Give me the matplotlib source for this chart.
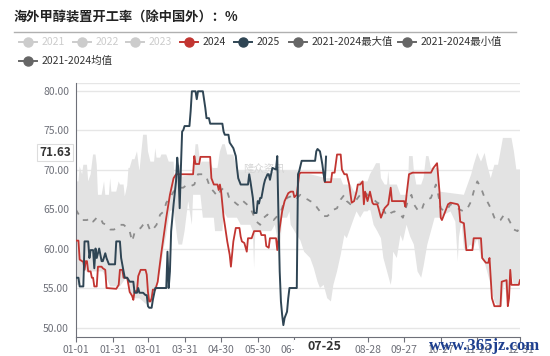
import numpy as np
import matplotlib
matplotlib.use("Agg")
import matplotlib.pyplot as plt
from matplotlib.lines import Line2D
from matplotlib.patches import Rectangle

plt.rcParams['font.family'] = ['Noto Sans CJK SC', 'DejaVu Sans']

# day of year (0 = 01-01) and value
red_days = [0, 2, 3, 5, 6, 7, 8, 9, 10, 12, 13, 14, 15, 17, 18, 21, 22, 24, 25, 33,
            35, 36, 38, 39, 42, 44, 46, 47, 48, 50, 51, 53, 57, 58, 59, 60, 61, 62, 63, 65,
            67, 68, 70, 72, 74, 77, 80, 82, 96, 97, 98, 101, 102, 110, 111, 113, 116, 117, 118, 119,
            121, 122, 124, 126, 127, 129, 131, 134, 135, 136, 138, 140, 141, 144, 146, 151, 152, 155, 156, 158,
            159, 164, 165, 167, 169, 171, 174, 176, 178, 179, 181, 183, 184, 203, 204, 209, 210, 212, 214, 217,
            218, 220, 222, 224, 226, 228, 230, 231, 233, 235, 236, 237, 239, 241, 243, 244, 247, 248, 250, 251,
            253, 256, 258, 259, 269, 270, 271, 273, 276, 291, 293, 295, 296, 298, 299, 300, 302, 305, 307, 313,
            314, 315, 318, 320, 325, 326, 332, 333, 336, 338, 339, 340, 341, 343, 348, 349, 353, 354, 355, 356,
            357, 363, 364]
red_vals = [61.0, 61.0, 58.6, 58.4, 58.3, 57.3, 58.4, 58.4, 57.1, 57.1, 56.3, 56.3, 55.2, 55.2, 57.7, 57.7, 57.5, 57.3, 55.0, 54.9,
            55.4, 57.3, 57.3, 56.3, 56.3, 54.5, 54.0, 53.5, 54.6, 54.6, 56.5, 57.3, 57.3, 56.7, 54.5, 53.3, 53.3, 53.7, 54.8, 54.8,
            55.8, 57.1, 59.5, 61.7, 63.9, 66.8, 68.9, 69.4, 69.4, 71.7, 70.7, 70.7, 71.6, 71.6, 68.9, 68.1, 68.1, 67.4, 68.1, 67.2,
            64.0, 63.0, 60.9, 59.2, 57.7, 60.9, 62.6, 62.6, 61.5, 60.9, 60.7, 59.6, 61.3, 61.3, 62.2, 62.2, 61.7, 61.7, 60.3, 60.1,
            61.3, 61.3, 59.8, 62.6, 64.7, 66.0, 67.0, 67.2, 67.2, 66.5, 66.8, 69.4, 69.6, 69.6, 68.4, 68.4, 69.6, 69.6, 71.9, 71.9,
            70.0, 69.4, 69.4, 68.1, 65.8, 66.0, 67.2, 68.1, 68.1, 68.5, 65.6, 67.2, 66.0, 67.2, 65.8, 65.6, 65.6, 65.1, 63.9, 64.3,
            65.1, 65.6, 67.7, 66.0, 66.0, 65.3, 66.8, 69.4, 69.6, 69.6, 70.2, 70.6, 70.8, 67.2, 63.9, 63.6, 64.4, 65.6, 65.8, 65.6,
            65.3, 63.4, 63.2, 59.8, 59.8, 61.3, 61.3, 58.8, 58.2, 58.2, 58.8, 56.3, 53.7, 52.7, 52.7, 55.8, 56.0, 52.7, 53.7, 57.3,
            55.4, 55.4, 56.0]

navy_days = [0, 2, 3, 6, 7, 10, 11, 12, 14, 15, 16, 17, 19, 21, 22, 24, 25, 27, 32, 33,
             36, 37, 39, 40, 42, 44, 47, 48, 50, 51, 52, 55, 57, 58, 59, 60, 62, 63, 65, 74,
             75, 76, 77, 78, 80, 82, 83, 84, 85, 86, 87, 88, 89, 93, 94, 95, 98, 99, 100, 104,
             106, 107, 109, 110, 120, 121, 122, 125, 126, 129, 131, 132, 133, 135, 141, 142, 143, 145, 146, 148,
             149, 150, 151, 152, 154, 155, 157, 158, 159, 161, 164, 165, 166, 167, 168, 169, 170, 171, 173, 174,
             175, 181, 182, 183, 185, 196, 197, 198, 200, 201, 202, 203, 204, 205]
navy_vals = [56.3, 56.3, 55.2, 55.2, 60.9, 60.9, 58.8, 59.8, 59.8, 57.5, 60.0, 58.8, 60.0, 58.4, 58.4, 59.4, 58.8, 58.0, 58.0, 60.9,
             60.9, 58.8, 57.1, 56.3, 56.3, 55.8, 55.8, 54.4, 54.4, 55.0, 54.4, 54.4, 54.1, 54.1, 52.7, 52.5, 52.5, 53.5, 55.0, 55.0,
             59.6, 55.0, 57.1, 62.2, 65.6, 68.5, 71.5, 69.8, 65.1, 70.2, 74.8, 75.0, 75.5, 75.5, 77.4, 79.9, 79.9, 78.9, 79.9, 79.9,
             77.8, 76.5, 76.5, 75.8, 75.8, 74.8, 74.4, 74.4, 73.4, 72.7, 71.7, 70.2, 68.9, 68.1, 68.1, 69.4, 68.5, 66.4, 64.5, 64.5,
             66.0, 65.7, 66.4, 66.4, 68.1, 68.7, 69.4, 69.4, 68.7, 70.2, 70.0, 71.7, 63.9, 57.1, 53.3, 51.6, 50.3, 51.2, 52.0, 53.7,
             55.0, 55.0, 69.4, 69.8, 71.1, 71.1, 72.3, 72.6, 72.3, 71.5, 70.6, 69.4, 68.5, 71.63]

max_days = [0, 2, 3, 5, 6, 9, 10, 12, 14, 16, 17, 18, 21, 23, 24, 27, 28, 29, 33, 35,
            36, 39, 40, 42, 43, 44, 46, 48, 50, 52, 55, 58, 59, 61, 64, 65, 66, 69, 70, 74,
            76, 80, 81, 83, 85, 87, 96, 98, 100, 102, 103, 110, 112, 116, 118, 120, 122, 124, 129, 132,
            155, 160, 165, 176, 183, 184, 192, 200, 205, 217, 219, 225, 228, 230, 232, 239, 241, 244, 246, 249,
            250, 253, 255, 256, 257, 263, 266, 272, 273, 276, 277, 279, 283, 285, 287, 289, 291, 297, 298, 318,
            321, 324, 326, 329, 332, 335, 337, 340, 343, 346, 348, 350, 357, 359, 361, 364]
max_vals = [68.5, 68.5, 70.4, 69.4, 70.6, 70.6, 68.5, 69.4, 71.9, 71.9, 70.6, 66.8, 66.8, 68.5, 66.8, 66.8, 68.9, 67.2, 67.2, 68.5,
            68.1, 68.1, 66.6, 68.0, 70.2, 70.2, 71.3, 71.3, 72.3, 69.8, 74.4, 74.4, 72.3, 71.0, 71.0, 72.7, 71.5, 71.5, 71.9, 71.9,
            71.0, 71.0, 68.1, 70.6, 70.6, 69.1, 69.4, 73.2, 73.2, 70.6, 71.0, 71.0, 70.2, 70.2, 72.3, 73.2, 73.2, 71.9, 71.9, 69.8,
            69.8, 69.5, 70.0, 69.8, 69.8, 69.4, 69.4, 69.1, 68.9, 68.9, 68.1, 68.1, 67.2, 67.2, 68.5, 68.5, 69.4, 70.2, 70.8, 70.8,
            68.9, 68.1, 68.1, 69.8, 68.1, 68.1, 66.8, 66.8, 71.7, 71.7, 69.8, 68.1, 68.1, 69.0, 71.7, 71.7, 70.2, 70.2, 67.2, 66.8,
            68.1, 69.4, 70.6, 72.1, 71.0, 72.1, 70.6, 68.9, 70.6, 70.6, 72.3, 74.0, 74.0, 72.3, 70.0, 70.0]

min_days = [0, 4, 6, 8, 22, 25, 28, 36, 41, 46, 52, 58, 63, 66, 69, 72, 74, 77, 80, 83,
            84, 87, 89, 92, 95, 96, 102, 104, 113, 114, 120, 121, 124, 132, 135, 143, 145, 146, 147, 160,
            163, 165, 167, 169, 173, 175, 176, 178, 181, 184, 187, 192, 195, 198, 200, 203, 206, 209, 211, 214,
            217, 220, 222, 225, 228, 230, 233, 236, 239, 241, 244, 247, 250, 252, 255, 258, 259, 260, 263, 266,
            268, 271, 274, 277, 280, 283, 285, 288, 291, 294, 299, 302, 307, 311, 313, 314, 316, 318, 320, 323,
            326, 329, 332, 335, 337, 340, 343, 346, 349, 351, 354, 357, 359, 364]
min_vals = [55.4, 55.4, 58.8, 57.1, 57.1, 56.3, 55.2, 55.2, 56.3, 53.7, 53.7, 52.9, 53.7, 55.4, 57.1, 60.1, 61.7, 64.7, 65.0, 61.3,
            60.5, 60.5, 62.2, 66.0, 63.0, 66.8, 66.8, 63.9, 63.9, 62.2, 62.2, 64.7, 63.9, 63.9, 63.0, 63.0, 62.2, 57.5, 62.2, 62.2,
            63.0, 61.3, 59.0, 63.9, 63.9, 64.7, 63.0, 62.5, 61.7, 61.0, 59.6, 58.8, 57.5, 55.8, 55.0, 55.4, 53.7, 53.3, 55.4, 57.1,
            59.2, 61.7, 61.3, 62.6, 63.9, 64.7, 63.9, 64.7, 64.7, 65.1, 63.0, 62.2, 61.3, 58.8, 57.1, 55.4, 56.3, 59.6, 58.8, 61.7,
            60.9, 63.0, 61.5, 60.5, 57.1, 56.3, 57.8, 60.5, 62.2, 63.9, 63.9, 64.3, 64.7, 63.4, 58.4, 61.5, 63.4, 60.1, 59.6, 60.5,
            60.1, 61.3, 58.8, 58.2, 57.1, 55.4, 53.3, 52.7, 52.7, 55.8, 52.9, 56.7, 55.4, 55.4]

mean_days = [0, 3, 5, 9, 12, 14, 17, 20, 22, 25, 28, 31, 34, 36, 39, 42, 44, 46, 48, 50,
             53, 55, 58, 61, 64, 66, 69, 72, 74, 77, 80, 83, 88, 91, 94, 97, 100, 105, 107, 110,
             113, 116, 118, 121, 124, 126, 129, 132, 134, 137, 140, 143, 146, 148, 151, 154, 157, 159, 162, 165,
             168, 170, 173, 176, 178, 181, 184, 187, 190, 192, 195, 198, 200, 203, 206, 209, 211, 214, 217, 220,
             222, 225, 227, 230, 233, 236, 239, 241, 244, 247, 250, 252, 255, 258, 261, 263, 266, 268, 270, 272,
             275, 277, 280, 283, 285, 288, 291, 294, 295, 297, 299, 302, 305, 307, 310, 313, 315, 318, 321, 324,
             326, 329, 332, 335, 337, 340, 343, 346, 348, 351, 354, 357, 359, 362, 364]
mean_vals = [64.9, 64.1, 63.6, 63.6, 63.9, 63.4, 63.9, 63.9, 63.2, 63.0, 62.4, 62.4, 62.6, 63.0, 63.0, 62.6, 62.2, 60.9, 62.0, 62.3,
             62.6, 63.0, 63.4, 62.2, 62.6, 63.0, 64.3, 64.7, 65.8, 66.4, 67.2, 67.7, 67.7, 68.1, 67.9, 68.1, 69.4, 69.4, 69.0, 67.7,
             67.2, 66.6, 67.2, 67.7, 67.2, 66.2, 66.0, 65.6, 65.4, 66.0, 65.6, 65.1, 64.1, 63.4, 63.0, 63.9, 64.3, 63.9, 63.6, 64.1,
             64.7, 65.6, 66.4, 66.6, 66.8, 66.4, 66.8, 66.4, 66.2, 66.0, 65.8, 65.1, 64.7, 64.1, 64.1, 64.5, 64.9, 65.1, 66.2, 66.8,
             66.0, 65.6, 65.8, 66.2, 66.8, 67.2, 66.8, 66.4, 66.2, 65.8, 65.6, 64.9, 64.1, 64.5, 64.7, 64.5, 64.3, 63.9, 64.9, 66.0,
             66.8, 65.6, 64.9, 64.7, 65.6, 66.2, 66.4, 67.7, 68.1, 66.8, 65.1, 64.7, 65.1, 65.6, 65.4, 65.1, 64.9, 64.7, 65.1, 66.0,
             67.2, 68.5, 67.7, 66.4, 66.0, 65.1, 63.9, 63.4, 63.6, 64.3, 63.9, 63.0, 62.4, 62.2, 63.0]

tick_days = [0, 30, 59, 89, 119, 149, 179, 209, 239, 269, 299, 329, 364]
tick_labels = ['01-01', '01-31', '03-01', '03-31', '04-30', '05-30', '06-29', '07-29',
               '08-28', '09-27', '10-27', '11-26', '12-31']
pointer_day_label = '07-25'
pointer_value = 71.63

title = '海外甲醇装置开工率（除中国外）：%'
legend_names = ['2021', '2022', '2023', '2024', '2025', '2021-2024最大值', '2021-2024最小值', '2021-2024均值']

RED = '#c23531'
NAVY = '#2f4554'
GREY = '#6e7079'

W, H = 550, 356
fig = plt.figure(figsize=(5.5, 3.56), dpi=100)


def fx(px):
    return px / W


def fy(py):
    return 1 - py / H


ax = fig.add_axes([fx(76), fy(337), fx(520) - fx(76), fy(83) - fy(337)])

# min/max band
band_x = np.r_[max_days, min_days[::-1]]
band_y = np.r_[max_vals, min_vals[::-1]]
ax.fill(band_x, band_y, color='#e3e3e3', lw=0, zorder=1)

ax.plot(mean_days, mean_vals, color='#8c8c8c', lw=1.3, dashes=(3, 4), zorder=2)
ax.plot(red_days, red_vals, color=RED, lw=1.3, zorder=3)
ax.plot(navy_days, navy_vals, color=NAVY, lw=1.4, zorder=4)

ax.set_xlim(0, 364)
ax.set_ylim(48.8, 80.95)
ax.set_yticks([50, 55, 60, 65, 70, 75, 80])
ax.set_yticklabels([f'{v:.2f}' for v in [50, 55, 60, 65, 70, 75, 80]])
ax.set_xticks(tick_days)
ax.set_xticklabels(tick_labels)
ax.grid(axis='y', color='#e6e6e6', lw=1, zorder=0)
ax.set_axisbelow(True)
for s in ['top', 'right']:
    ax.spines[s].set_visible(False)
ax.axhline(80.95, color='#e6e6e6', lw=1, zorder=0)
ax.spines['left'].set_color(GREY)
ax.spines['bottom'].set_color(GREY)
ax.tick_params(axis='y', length=0, pad=5, labelsize=7.5, labelcolor=GREY)
ax.tick_params(axis='x', length=3.5, color=GREY, pad=2, labelsize=7.5, labelcolor=GREY)

# watermark in plot
ax.text(137, 70.1, '隆众资讯', color='#d4d4d4', fontsize=7.5, va='center', zorder=2)

# axis pointer labels
fig.add_artist(Rectangle((fx(294), fy(356)), fx(350) - fx(294), fy(340) - fy(356),
                         transform=fig.transFigure, fc='white', ec='none'))
fig.text(fx(325), fy(347), pointer_day_label, ha='center', va='center', fontsize=9,
         fontweight='bold', color='#333333')
ax.annotate(f'{pointer_value:.2f}', xy=(0, pointer_value), xycoords=('axes fraction', 'data'),
            xytext=(-15, 3), textcoords='offset points', ha='center', va='center',
            fontsize=8.5, fontweight='bold', color='#333333',
            bbox=dict(boxstyle='square,pad=0.2', fc='white', ec='#dddddd', lw=0.8))

# title + rule
fig.text(fx(14), fy(17.5), title, ha='left', va='center', fontsize=9.5, fontweight='bold', color='#222222')
fig.add_artist(Line2D([fx(14), fx(516)], [fy(32), fy(32)], color='#b0b0b0', lw=1))

# legend
leg_colors = ['#cccccc', '#cccccc', '#cccccc', RED, NAVY, '#666666', '#666666', '#666666']
leg_text_colors = ['#cccccc', '#cccccc', '#cccccc', '#333333', '#333333', '#333333', '#333333', '#333333']
leg_pos = [(28, 42), (82, 42), (135, 42), (189, 42), (243, 42), (298, 42), (407, 42), (28, 61)]
for name, c, tc, (mx, my) in zip(legend_names, leg_colors, leg_text_colors, leg_pos):
    fig.add_artist(Line2D([fx(mx - 9), fx(mx + 9)], [fy(my), fy(my)], color=c, lw=1.4))
    fig.add_artist(Line2D([fx(mx)], [fy(my)], color=c, marker='o', ms=6.5, mec=c, lw=0))
    fig.text(fx(mx + 14), fy(my), name, ha='left', va='center', fontsize=7.5, color=tc)

# site stamp bottom right
fig.text(fx(485), fy(346), 'www.365jz.com', ha='center', va='center', fontsize=12,
         family='Liberation Serif', fontweight='bold', color='#1d3f8f')

fig.savefig('out.png', dpi=100)
